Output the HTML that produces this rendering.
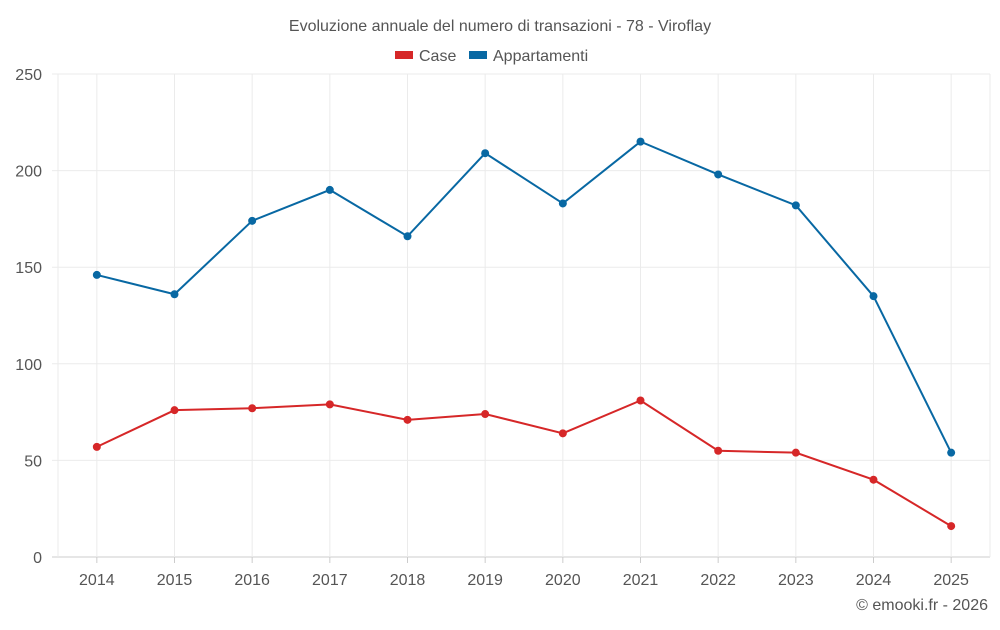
<!DOCTYPE html>
<html><head><meta charset="utf-8"><style>
body{margin:0;background:#fff;font-family:"Liberation Sans",sans-serif;}
svg text{font-family:"Liberation Sans",sans-serif;}
</style></head><body>
<svg id="chart" width="1000" height="625">
<text x="500" y="31" text-anchor="middle" font-size="16" fill="#555">Evoluzione annuale del numero di transazioni - 78 - Viroflay</text>
<g>
<g><rect x="395" y="51" width="18" height="8" fill="#d62728"/><text x="419" y="61" font-size="16" fill="#555">Case</text></g>
<g><rect x="469" y="51" width="18" height="8" fill="#0868a3"/><text x="493" y="61" font-size="16" fill="#555">Appartamenti</text></g>
</g>
<g id="grid"></g><g id="axes"></g><g id="series"></g>
<text x="988" y="610" text-anchor="end" font-size="16" fill="#555">© emooki.fr - 2026</text>
</svg>
<script>
const years=["2014","2015","2016","2017","2018","2019","2020","2021","2022","2023","2024","2025"];
const caseValues=[57,76,77,79,71,74,64,81,55,54,40,16];
const appartValues=[146,136,174,190,166,209,183,215,198,182,135,54];
const yTicks=[0,50,100,150,200,250];
const NS="http://www.w3.org/2000/svg";
const L=58,R=990,T=74,B=557,yMax=250;
const step=(R-L)/years.length;
const x=i=>L+step*(i+0.5);
const y=v=>B-(v/yMax)*(B-T);
function mk(tag,attrs,parent){const e=document.createElementNS(NS,tag);for(const k in attrs)e.setAttribute(k,attrs[k]);parent.appendChild(e);return e;}
const grid=document.getElementById('grid'),axes=document.getElementById('axes'),series=document.getElementById('series');
yTicks.forEach(t=>{
 const l=mk('line',{x1:52,x2:R,y1:y(t),y2:y(t),stroke:t===0?'#ccc':'#ebebeb'},grid);
 
 
 const tx=mk('text',{x:42,y:y(t)+6,'text-anchor':'end','font-size':16,fill:'#555'},axes);
 tx.textContent=t;
 
 
});
[L,R].forEach(px=>{
 const l=mk('line',{x1:px,x2:px,y1:T,y2:B,stroke:'#ebebeb'},grid);
 
 
});
years.forEach((yr,i)=>{
 const g=mk('line',{x1:x(i),x2:x(i),y1:T,y2:B,stroke:'#ebebeb'},grid);
 
 
 const tk=mk('line',{x1:x(i),x2:x(i),y1:B,y2:B+6,stroke:'#ccc'},axes);
 
 
 const tx=mk('text',{x:x(i),y:585,'text-anchor':'middle','font-size':16,fill:'#555'},axes);
 tx.textContent=yr;
 
 
});
function draw(vals,color,name){
 const p=mk('polyline',{points:vals.map((v,i)=>x(i)+','+y(v)).join(' '),fill:'none',stroke:color,'stroke-width':2},series);
 
 
 vals.forEach((v,i)=>{
  const c=mk('circle',{cx:x(i),cy:y(v),r:4,fill:color},series);
  
  
 });
}
draw(appartValues,'#0868a3','appartamenti');
draw(caseValues,'#d62728','case');
</script>
</body></html>
